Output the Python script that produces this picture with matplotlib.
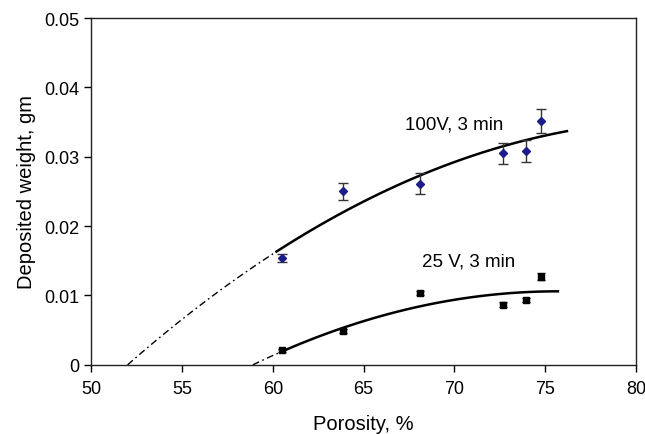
import numpy as np
import matplotlib
matplotlib.use("Agg")
import matplotlib.pyplot as plt

plt.rcParams['font.family'] = ['Liberation Sans', 'DejaVu Sans']

porosity = [60.5, 63.85, 68.1, 72.7, 73.95, 74.75]
w_100v = [0.0154, 0.0250, 0.0261, 0.0305, 0.0308, 0.0352]
err_100v = [0.0006, 0.0012, 0.0015, 0.0015, 0.0016, 0.0017]
w_25v = [0.0021, 0.0049, 0.0103, 0.0087, 0.0093, 0.0127]
err_25v = [0.0002, 0.0003, 0.0003, 0.0003, 0.0003, 0.0005]

# trendline coefficients: y = b*(x-x0) + c*(x-x0)^2
trend_100v = {"x0": 52.0, "b": 0.0022982, "c": -3.742e-5, "x_end": 76.2}
trend_25v = {"x0": 58.9, "b": 0.001262, "c": -3.756e-5, "x_end": 75.7}

x_ticks = [50, 55, 60, 65, 70, 75, 80]
y_ticks = [0, 0.01, 0.02, 0.03, 0.04, 0.05]
y_tick_labels = ["0", "0.01", "0.02", "0.03", "0.04", "0.05"]

fig = plt.figure(figsize=(6.45, 4.35), dpi=100)
ax = fig.add_axes([0.1415, 0.159, 0.8445, 0.797])


def trend(tr, x):
    u = np.asarray(x) - tr["x0"]
    return tr["b"] * u + tr["c"] * u ** 2


dash = (0, (5, 2.5, 1.2, 2.5))
for tr, x_start in ((trend_100v, porosity[0] - 0.3), (trend_25v, porosity[0])):
    xd = np.linspace(tr["x0"], x_start, 50)
    ax.plot(xd, trend(tr, xd), color='black', lw=1.0, linestyle=dash)
    xs = np.linspace(x_start, tr["x_end"], 100)
    ax.plot(xs, trend(tr, xs), color='black', lw=1.8)

ax.errorbar(porosity, w_100v, yerr=err_100v, fmt='D', color='#1c1c8a',
            ms=4.5, ecolor='#333333', elinewidth=1.0, capsize=3.5, capthick=1.0)
ax.errorbar(porosity, w_25v, yerr=err_25v, fmt='s', color='black',
            ms=5, ecolor='black', elinewidth=1.0, capsize=3, capthick=1.0)

ax.text(67.3, 0.0348, "100V, 3 min", fontsize=13.5, va='center', ha='left')
ax.text(68.2, 0.0150, "25 V, 3 min", fontsize=13.5, va='center', ha='left')

ax.set_xlim(50, 80)
ax.set_ylim(0, 0.05)
ax.set_xticks(x_ticks)
ax.set_xticklabels([str(t) for t in x_ticks])
ax.set_yticks(y_ticks)
ax.set_yticklabels(y_tick_labels)
ax.tick_params(direction='out', length=5, width=1, labelsize=13, colors='black')
ax.tick_params(axis='x', pad=6)
for s in ax.spines.values():
    s.set_linewidth(1.0)
    s.set_color('#222222')

ax.set_xlabel("Porosity, %", fontsize=14.5, labelpad=12)
ax.set_ylabel("Deposited weight, gm", fontsize=14.5, labelpad=6)

fig.savefig("out.png", dpi=100)
